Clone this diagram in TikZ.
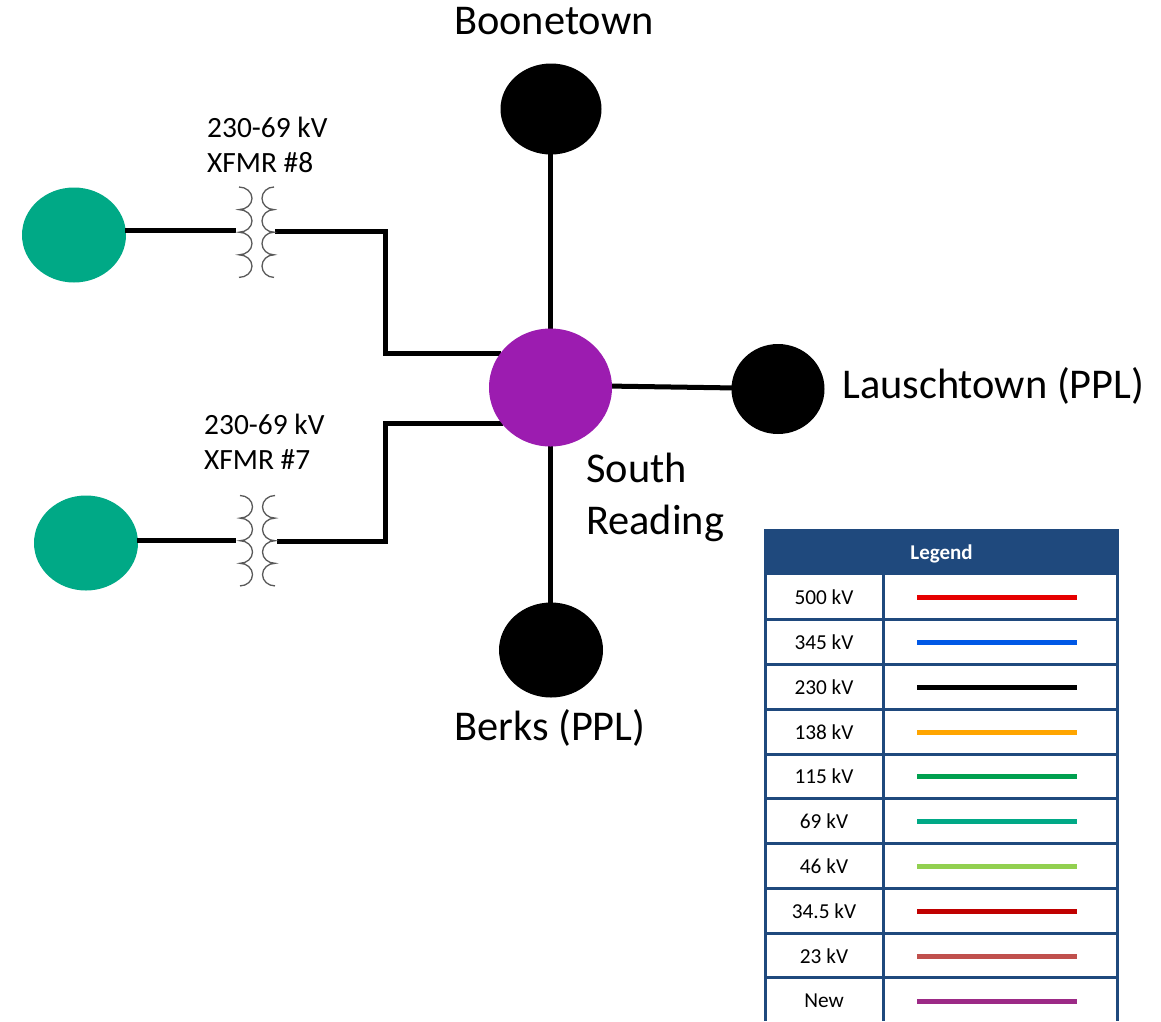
\documentclass[tikz,border=0pt]{standalone}
\usepackage{fontspec}
\setmainfont{Carlito}
\definecolor{navy}{HTML}{1F497D}
\definecolor{green69}{HTML}{00A986}
\definecolor{purp}{HTML}{9C1CB0}
\newcommand{\coil}[3]{% x-top, y-top, bulge
  \draw[coilline] (#1,#2)
    arc[start angle=-90,end angle=90,x radius=#3,y radius=11.3]
    arc[start angle=-90,end angle=90,x radius=#3,y radius=11.3]
    arc[start angle=-90,end angle=90,x radius=#3,y radius=11.3]
    arc[start angle=-90,end angle=90,x radius=#3,y radius=11.3];}
\tikzset{
  busline/.style={line width=5pt,black,line join=miter},
  coilline/.style={line width=1.3pt,black!65},
  biglabel/.style={inner sep=0pt,font=\fontsize{42.4}{52}\selectfont,align=left,anchor=west},
  midlabel/.style={inner sep=0pt,font=\fontsize{29.4}{34.5}\selectfont,align=left,anchor=west},
  legtext/.style={inner sep=0pt,font=\fontsize{21.3}{25}\selectfont,black},
  gridline/.style={line width=3pt,navy},
  legline/.style={line width=5pt},
}
\usetikzlibrary{shapes.geometric}
\begin{document}
\begin{tikzpicture}[x=1pt,y=-1pt]
\useasboundingbox (0,0) rectangle (1161,1021);
\fill[white] (0,0) rectangle (1161,1021);
% buses
\node[ellipse,inner sep=0pt,minimum width=104pt,minimum height=95pt,fill=green69] (g8) at (74,235) {};
\node[ellipse,inner sep=0pt,minimum width=104pt,minimum height=95pt,fill=green69] (g7) at (86,543) {};
\node[ellipse,inner sep=0pt,minimum width=101pt,minimum height=91pt,fill=black] (boone) at (551,109) {};
\node[ellipse,inner sep=0pt,minimum width=93pt,minimum height=90pt,fill=black] (lausch) at (778,389) {};
\node[ellipse,inner sep=0pt,minimum width=104pt,minimum height=95pt,fill=black] (berks) at (551,650) {};
% connector ends
\coordinate (t8l) at (236,230);
\coordinate (t8r) at (275,231);
\coordinate (t7l) at (236,540);
\coordinate (t7r) at (277,541);
\coordinate (j8) at (385,231);
\coordinate (j7) at (385,541);
\coordinate (s8) at (501,353);
\coordinate (s7) at (503,423);
\coordinate (g8e) at (125,230);
\coordinate (g7e) at (137,540);
\coordinate (st) at (550,335);
\coordinate (sb) at (550,440);
\coordinate (bt) at (550,150);
\coordinate (bb) at (550,608);
\coordinate (sr) at (606,386);
\coordinate (lw) at (737,388);
% connectors
\draw[busline] (g8e) -- (t8l);
\draw[busline] (t8r) -- (j8) |- (s8);
\draw[busline] (g7e) -- (t7l);
\draw[busline] (t7r) -- (j7) |- (s7);
\draw[busline] (bt) -- (st);
\draw[busline] (sb) -- (bb);
\draw[busline] (sr) -- (lw);
\node[ellipse,inner sep=0pt,minimum width=123pt,minimum height=118pt,fill=purp] (south) at (550.5,387.5) {};
% transformers
\coil{239}{187}{13}
\coil{274}{187}{-12}
\coil{240}{495.5}{12.5}
\coil{275}{495.5}{-12.5}
% labels
\node[biglabel] (lb) at (454,21) {Boonetown};
\node[biglabel] (ll) at (842,386) {Lauschtown (PPL)};
\node[biglabel] (lbk) at (454,728) {Berks (PPL)};
\node[biglabel] (ls) at (586,497) {South\\Reading};
\node[midlabel] (x8) at (207,145) {230-69 kV\\XFMR \#8};
\node[midlabel] (x7) at (204,442) {230-69 kV\\XFMR \#7};
% legend
\fill[navy] (764,529) rectangle (1119,575);
\node[inner sep=0pt,font=\fontsize{21}{25}\selectfont\bfseries,text=white] (lg) at (941.5,554) {Legend};
\draw[gridline] (765,575) -- (765,1021);
\draw[gridline] (883,575) -- (883,1021);
\draw[gridline] (1117.5,575) -- (1117.5,1021);
\foreach \y in {619.5,664,709,754,798.5,843.5,888.5,933,977.5}
  \draw[gridline] (765,\y) -- (1117.5,\y);
\foreach \y/\t/\c in {597/500 kV/E60000,642/345 kV/0058E6,687/230 kV/000000,732/138 kV/FFA500,776.5/115 kV/00A04F,821.5/69 kV/00A986,866.5/46 kV/92D050,911.5/34.5 kV/C00000,956/23 kV/C0504D,1001/New/9C2A86}{
  \node[legtext] at (824,\y) {\t};
  \definecolor{lc}{HTML}{\c}
  \draw[legline,lc] (917,\y) -- (1077,\y);
}
\end{tikzpicture}
\end{document}
